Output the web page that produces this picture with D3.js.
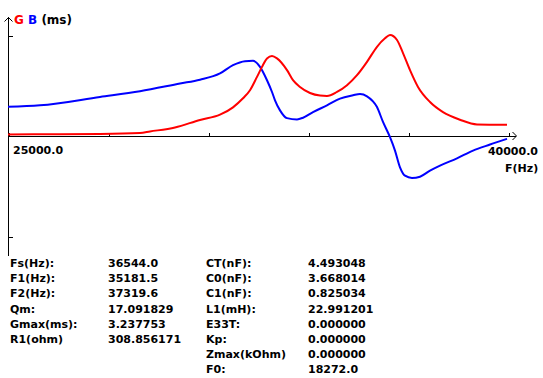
<!DOCTYPE html>
<html>
<head>
<meta charset="utf-8">
<script src="https://cdn.jsdelivr.net/npm/d3@7"></script>
<style>
  html, body { margin: 0; padding: 0; background: #fff; }
  svg { display: block; }
  text { font-family: "DejaVu Sans", sans-serif; font-weight: bold; font-size: 11px; fill: #000; }
</style>
</head>
<body>
<svg id="chart" width="543" height="378"></svg>
<script>
// ---- data ----
const gFreq = [25000, 26560, 27760, 28960, 29260, 30010, 30760, 31360, 31750, 32050, 32260, 32470, 32620, 32770, 32920, 33070, 33370, 33550, 33760, 34060, 34360, 34570, 34870, 35170, 35470, 35770, 36070, 36310, 36460, 36670, 36850, 37060, 37300, 37660, 38050, 38560, 39070, 39970];
const gValues = [0.032, 0.042, 0.049, 0.081, 0.130, 0.259, 0.502, 0.670, 0.907, 1.198, 1.457, 1.888, 2.211, 2.483, 2.558, 2.483, 2.105, 1.781, 1.564, 1.370, 1.285, 1.272, 1.402, 1.619, 1.943, 2.373, 2.859, 3.131, 3.238, 3.076, 2.655, 2.105, 1.564, 1.078, 0.754, 0.508, 0.356, 0.346];
const bFreq = [25000, 25960, 27760, 28960, 30160, 30760, 31360, 31750, 32110, 32350, 32560, 32770, 32920, 33010, 33160, 33370, 33670, 33850, 34150, 34570, 34960, 35350, 35560, 35770, 36070, 36250, 36460, 36610, 36760, 36910, 37120, 37360, 37660, 37960, 38470, 38950, 39460, 39970];
const bValues = [0.923, 0.971, 1.240, 1.425, 1.674, 1.797, 1.998, 2.266, 2.396, 2.406, 2.211, 1.781, 1.402, 1.133, 0.810, 0.560, 0.518, 0.573, 0.754, 0.971, 1.188, 1.295, 1.337, 1.263, 0.916, 0.437, -0.055, -0.486, -1.026, -1.295, -1.370, -1.327, -1.133, -0.971, -0.735, -0.486, -0.291, -0.107];
const xTicks = [25000, 28000, 31000, 34000, 37000, 40000];
const xTickLabels = ["25000.0", "40000.0"];
const yTicks = [3.237753, -3.237753];
const paramLabels1 = ["Fs(Hz):", "F1(Hz):", "F2(Hz):", "Qm:", "Gmax(ms):", "R1(ohm)"];
const paramValues1 = ["36544.0", "35181.5", "37319.6", "17.091829", "3.237753", "308.856171"];
const paramLabels2 = ["CT(nF):", "C0(nF):", "C1(nF):", "L1(mH):", "E33T:", "Kp:", "Zmax(kOhm)", "F0:"];
const paramValues2 = ["4.493048", "3.668014", "0.825034", "22.991201", "0.000000", "0.000000", "0.000000", "18272.0"];

// ---- drawing ----
const svg = d3.select("#chart");
const x = d3.scaleLinear().domain([25000, 40000]).range([8, 508]);
const y = d3.scaleLinear().domain([-3.237753, 3.237753]).range([236, 35]);
const y0 = y(0);

const axisG = svg.append("g").attr("stroke", "#000").attr("stroke-width", 1).attr("fill", "none").attr("shape-rendering", "crispEdges");
// y axis line & arrow
axisG.append("line").attr("x1", 8.5).attr("x2", 8.5).attr("y1", 17).attr("y2", 256);
axisG.append("path").attr("d", "M4.5,21.5L8.5,17.5L12.5,21.5").attr("shape-rendering", "auto");
// x axis line & arrow
axisG.append("line").attr("x1", 8).attr("x2", 516).attr("y1", y0 + 0.5).attr("y2", y0 + 0.5);
axisG.append("path").attr("d", `M512.5,${y0 - 3.5}L516.5,${y0 + 0.5}L512.5,${y0 + 4.5}`).attr("shape-rendering", "auto");

// x ticks (upward)
const xAxis = d3.axisTop(x).tickValues(xTicks).tickSize(3).tickFormat("");
const gx = svg.append("g").attr("transform", `translate(0.5,${y0})`).call(xAxis);
gx.select(".domain").remove();
gx.selectAll(".tick line").attr("stroke", "#000").attr("shape-rendering", "crispEdges");

// y ticks (rightward)
const yAxis = d3.axisRight(y).tickValues(yTicks).tickSize(4).tickFormat("");
const gy = svg.append("g").attr("transform", `translate(8.5,0.5)`).call(yAxis);
gy.select(".domain").remove();
gy.selectAll(".tick line").attr("stroke", "#000").attr("shape-rendering", "crispEdges");

// curves
const lineG = d3.line().x((d, i) => x(gFreq[i])).y(d => y(d)).curve(d3.curveMonotoneX);
const lineB = d3.line().x((d, i) => x(bFreq[i])).y(d => y(d)).curve(d3.curveMonotoneX);
svg.append("path").attr("d", lineB(bValues)).attr("fill", "none").attr("stroke", "#0000ff").attr("stroke-width", 2);
svg.append("path").attr("d", lineG(gValues)).attr("fill", "none").attr("stroke", "#ff0000").attr("stroke-width", 2);

// header
const hdr = svg.append("text").attr("x", 14).attr("y", 24).style("font-size", "12px");
hdr.append("tspan").text("G").style("fill", "#ff0000");
hdr.append("tspan").text(" ");
hdr.append("tspan").text("B").style("fill", "#0000ff");
hdr.append("tspan").text(" (ms)").style("fill", "#000");

// x labels
svg.append("text").attr("x", 13).attr("y", 154).text(xTickLabels[0]);
svg.append("text").attr("x", 538).attr("y", 155).attr("text-anchor", "end").text(xTickLabels[1]);
svg.append("text").attr("x", 505).attr("y", 172).text("F(Hz)");

// parameter table
const rowY = i => 267 + i * 15.2;
paramLabels1.forEach((t, i) => svg.append("text").attr("x", 10).attr("y", rowY(i)).text(t));
paramValues1.forEach((t, i) => svg.append("text").attr("x", 108).attr("y", rowY(i)).text(t));
paramLabels2.forEach((t, i) => svg.append("text").attr("x", 206).attr("y", rowY(i)).text(t));
paramValues2.forEach((t, i) => svg.append("text").attr("x", 308).attr("y", rowY(i)).text(t));
</script>
</body>
</html>
